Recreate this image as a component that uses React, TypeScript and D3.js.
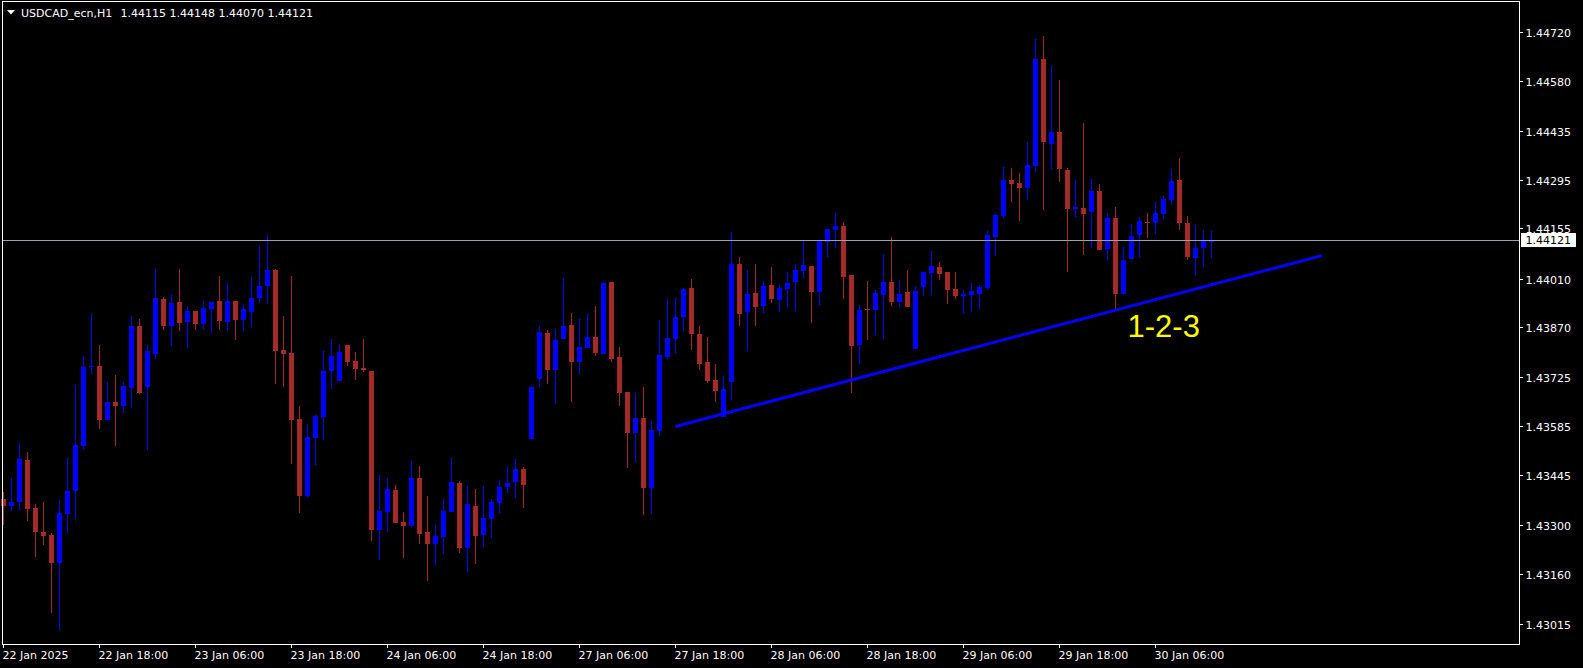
import React from "react";
import * as d3 from "d3";

const symbolTitle = "USDCAD_ecn,H1";
const lastQuote = ["1.44115", "1.44148", "1.44070", "1.44121"];
const bidPrice = 1.44121;

const openPrices = [
  1.43375, 1.43356, 1.43367, 1.43487, 1.43349, 1.4328, 1.43271, 1.43192, 1.43333, 1.43399,
  1.43529, 1.43755, 1.43758, 1.43603, 1.43654, 1.43644, 1.43696, 1.43873, 1.43697, 1.43793,
  1.43951, 1.43874, 1.43942, 1.43886, 1.43916, 1.4388, 1.43923, 1.43945, 1.43886, 1.43945,
  1.43891, 1.43914, 1.43955, 1.43989, 1.44034, 1.43804, 1.43795, 1.43605, 1.43384, 1.43551,
  1.43612, 1.43744, 1.43716, 1.43818, 1.43772, 1.43753, 1.43743, 1.43287, 1.43338, 1.43401,
  1.43309, 1.43298, 1.43435, 1.4328, 1.43246, 1.43266, 1.43338, 1.43421, 1.43235, 1.43355,
  1.43272, 1.43318, 1.43364, 1.4341, 1.43425, 1.43461, 1.43549, 1.43721, 1.43853, 1.43747,
  1.43837, 1.43876, 1.4377, 1.43811, 1.43841, 1.43793, 1.44, 1.43784, 1.43683, 1.43566,
  1.43608, 1.43408, 1.43571, 1.43784, 1.43836, 1.43899, 1.43983, 1.4385, 1.43769, 1.43718,
  1.43611, 1.43713, 1.44052, 1.43914, 1.43968, 1.43932, 1.43991, 1.43949, 1.4398, 1.44001,
  1.44032, 1.44046, 1.43971, 1.44116, 1.44151, 1.44161, 1.4402, 1.4382, 1.43922, 1.43918,
  1.43964, 1.44, 1.43943, 1.43971, 1.43808, 1.43986, 1.44026, 1.44043, 1.44029, 1.4398,
  1.43961, 1.43963, 1.43966, 1.43984, 1.4413, 1.44191, 1.44294, 1.44285, 1.44272, 1.44335,
  1.44642, 1.44398, 1.44432, 1.44323, 1.4421, 1.44213, 1.44203, 1.44262, 1.44096, 1.44184,
  1.43966, 1.44067, 1.44134, 1.44174, 1.4417, 1.44197, 1.44237, 1.44294, 1.4417, 1.4407,
  1.44099, 1.44115,
];
const highPrices = [
  1.43394, 1.43435, 1.43536, 1.4351, 1.43361, 1.43366, 1.43277, 1.43372, 1.43493, 1.43703,
  1.43787, 1.43908, 1.43818, 1.43712, 1.43732, 1.43712, 1.43902, 1.43893, 1.43818, 1.44037,
  1.43957, 1.43962, 1.44037, 1.43931, 1.43916, 1.43945, 1.43942, 1.44017, 1.43997, 1.43945,
  1.43937, 1.44014, 1.44105, 1.44135, 1.44037, 1.43902, 1.44017, 1.43643, 1.43591, 1.43617,
  1.43801, 1.43836, 1.43821, 1.43818, 1.43798, 1.43836, 1.43743, 1.43444, 1.43435, 1.43415,
  1.43337, 1.43484, 1.4347, 1.43384, 1.433, 1.43375, 1.43493, 1.43427, 1.43412, 1.43404,
  1.43412, 1.43375, 1.4343, 1.43467, 1.4349, 1.43467, 1.437, 1.43873, 1.43862, 1.43865,
  1.44011, 1.43911, 1.43893, 1.43908, 1.43931, 1.44, 1.44, 1.43813, 1.43683, 1.4368,
  1.43697, 1.436, 1.4389, 1.43951, 1.43954, 1.43983, 1.44009, 1.43873, 1.43841, 1.43764,
  1.43729, 1.44145, 1.44072, 1.44034, 1.44052, 1.44003, 1.44043, 1.43991, 1.44029, 1.44052,
  1.44121, 1.44046, 1.44121, 1.44153, 1.44199, 1.44173, 1.4402, 1.43934, 1.44003, 1.43977,
  1.44078, 1.4413, 1.44006, 1.44035, 1.43986, 1.44029, 1.44089, 1.44058, 1.44029, 1.44029,
  1.43977, 1.43997, 1.43991, 1.44147, 1.44196, 1.44331, 1.44328, 1.44314, 1.44403, 1.447,
  1.44709, 1.44622, 1.44582, 1.44328, 1.44294, 1.44458, 1.44297, 1.44282, 1.44199, 1.44216,
  1.44101, 1.44167, 1.44187, 1.44199, 1.4423, 1.44248, 1.44326, 1.44357, 1.4419, 1.44164,
  1.4415, 1.44148,
];
const lowPrices = [
  1.433, 1.4334, 1.43344, 1.43313, 1.43209, 1.43243, 1.43046, 1.42998, 1.43277, 1.43318,
  1.4352, 1.43736, 1.43577, 1.43602, 1.43529, 1.43623, 1.43638, 1.43677, 1.43517, 1.43779,
  1.43863, 1.43817, 1.4386, 1.43811, 1.43863, 1.43865, 1.43854, 1.43863, 1.4386, 1.43834,
  1.4386, 1.43871, 1.4394, 1.43937, 1.43707, 1.43698, 1.43477, 1.43335, 1.43381, 1.43474,
  1.43546, 1.43693, 1.43716, 1.43759, 1.43719, 1.43742, 1.43255, 1.432, 1.43281, 1.43307,
  1.43206, 1.43295, 1.43246, 1.4314, 1.43186, 1.43217, 1.43338, 1.4322, 1.43166, 1.43189,
  1.43238, 1.43264, 1.43335, 1.43393, 1.43379, 1.4335, 1.43549, 1.43698, 1.43707, 1.43649,
  1.43837, 1.43655, 1.43736, 1.43811, 1.43787, 1.43793, 1.4377, 1.43644, 1.43465, 1.43483,
  1.4333, 1.43333, 1.43557, 1.43778, 1.43795, 1.43859, 1.43804, 1.43746, 1.43709, 1.43654,
  1.43611, 1.43661, 1.43874, 1.43802, 1.43874, 1.43912, 1.4394, 1.43915, 1.43929, 1.43917,
  1.44012, 1.43883, 1.43934, 1.44072, 1.44099, 1.43952, 1.43681, 1.43765, 1.43834, 1.43848,
  1.43837, 1.43932, 1.43929, 1.43929, 1.43808, 1.43961, 1.43964, 1.44007, 1.43938, 1.43952,
  1.43912, 1.43915, 1.43923, 1.43981, 1.44076, 1.44185, 1.44231, 1.44177, 1.44237, 1.44318,
  1.44208, 1.44325, 1.44289, 1.4403, 1.44188, 1.44079, 1.44099, 1.44093, 1.44062, 1.43923,
  1.43966, 1.44067, 1.44073, 1.44128, 1.44138, 1.44182, 1.44226, 1.44151, 1.44062, 1.44018,
  1.44044, 1.4407,
];
const closePrices = [
  1.43356, 1.43366, 1.4349, 1.43347, 1.43281, 1.43269, 1.43192, 1.43335, 1.43398, 1.4353,
  1.43755, 1.43758, 1.43602, 1.43654, 1.43644, 1.437, 1.43873, 1.4368, 1.43801, 1.43954,
  1.43874, 1.43939, 1.43883, 1.43916, 1.4388, 1.43925, 1.43942, 1.43889, 1.43945, 1.43891,
  1.43922, 1.43954, 1.43988, 1.44034, 1.43802, 1.43793, 1.43603, 1.43384, 1.43553, 1.43614,
  1.43743, 1.43787, 1.43798, 1.4377, 1.4375, 1.43747, 1.43287, 1.4334, 1.43404, 1.43307,
  1.43298, 1.43435, 1.43275, 1.43246, 1.43268, 1.4334, 1.43424, 1.43235, 1.43361, 1.43269,
  1.4332, 1.43366, 1.43409, 1.43421, 1.43461, 1.43416, 1.43697, 1.43856, 1.43747, 1.43833,
  1.43873, 1.4377, 1.43813, 1.43841, 1.43795, 1.43997, 1.43779, 1.43681, 1.43566, 1.43608,
  1.43408, 1.43574, 1.4379, 1.43839, 1.43899, 1.4398, 1.4385, 1.43764, 1.43715, 1.43686,
  1.43692, 1.44052, 1.43909, 1.43965, 1.43929, 1.43988, 1.43952, 1.43983, 1.43997, 1.44035,
  1.44049, 1.43971, 1.44118, 1.44153, 1.44161, 1.44014, 1.43817, 1.43919, 1.43918, 1.43968,
  1.44, 1.43943, 1.43966, 1.43929, 1.43974, 1.44029, 1.44046, 1.44024, 1.43978, 1.43961,
  1.43966, 1.43974, 1.43986, 1.44135, 1.44193, 1.44294, 1.44283, 1.44272, 1.44337, 1.44642,
  1.44404, 1.44432, 1.44326, 1.44211, 1.44215, 1.44197, 1.44262, 1.44093, 1.44184, 1.43966,
  1.44063, 1.44133, 1.44176, 1.44171, 1.44199, 1.44239, 1.44291, 1.44171, 1.44073, 1.44098,
  1.44118, 1.44121,
];

const priceTicks = [
  1.4472, 1.4458, 1.44435, 1.44295, 1.44155, 1.4401, 1.4387, 1.43725, 1.43585, 1.43445,
  1.433, 1.4316, 1.43015,
];
const timeTickBars = [0, 12, 24, 36, 48, 60, 72, 84, 96, 108, 120, 132, 144];
const timeTickLabels = [
  "22 Jan 2025", "22 Jan 18:00", "23 Jan 06:00", "23 Jan 18:00", "24 Jan 06:00",
  "24 Jan 18:00", "27 Jan 06:00", "27 Jan 18:00", "28 Jan 06:00", "28 Jan 18:00",
  "29 Jan 06:00", "29 Jan 18:00", "30 Jan 06:00",
];

const trendBars = [84, 164.8];
const trendPrices = [1.43584, 1.44076];
const noteText = "1-2-3";
const noteBar = 140.5;
const notePrice = 1.43842;

const W = 1583;
const H = 668;
const FRAME = { left: 2, top: 1, right: 1519, bottom: 644 };
const BULL = "#0000ff";
const BEAR = "#a52a2a";
const FONT = "'DejaVu Sans', Tahoma, sans-serif";

export default function App() {
  const n = openPrices.length;
  const x = d3.scaleLinear().domain([0, n - 1]).range([3.5, 3.5 + 8 * (n - 1)]);
  const y = d3.scaleLinear().domain([1.429574, 1.448065]).range([644, 2]);

  const candles = openPrices.map((o, i) => {
    const c = closePrices[i];
    const col = Math.round(x(i) - 0.5);
    const bt = Math.round(y(Math.max(o, c)));
    const bb = Math.round(y(Math.min(o, c)));
    const wt = Math.round(y(highPrices[i]));
    const wb = Math.round(y(lowPrices[i]));
    const color = c >= o ? BULL : BEAR;
    return (
      <g key={i} fill={color}>
        <rect x={col} y={wt} width={1} height={Math.max(1, wb - wt)} />
        <rect x={col - 2} y={bt} width={5} height={Math.max(1, bb - bt)} />
      </g>
    );
  });

  const bidY = Math.floor(y(bidPrice)) + 0.5;

  return (
    <svg
      width={W}
      height={H}
      style={{ position: "fixed", left: 0, top: 0, display: "block", background: "#000" }}
    >
      <rect x={0} y={0} width={W} height={H} fill="#000" />
      <g shapeRendering="crispEdges">{candles}</g>

      <line
        x1={FRAME.left}
        x2={FRAME.right}
        y1={bidY}
        y2={bidY}
        stroke="#9aa3ad"
        strokeWidth={1}
        shapeRendering="crispEdges"
      />

      <line
        x1={x(trendBars[0])}
        y1={y(trendPrices[0])}
        x2={x(trendBars[1])}
        y2={y(trendPrices[1])}
        stroke={BULL}
        strokeWidth={3}
      />

      <text
        x={x(noteBar)}
        y={y(notePrice)}
        fill="#ffff00"
        fontFamily="'Liberation Sans', Arial, sans-serif"
        fontSize={31}
      >
        {noteText}
      </text>

      <rect
        x={FRAME.left + 0.5}
        y={FRAME.top + 0.5}
        width={FRAME.right - FRAME.left}
        height={FRAME.bottom - FRAME.top}
        fill="none"
        stroke="#fff"
        strokeWidth={1}
        shapeRendering="crispEdges"
      />

      {priceTicks.map((t) => {
        const ty = Math.round(y(t));
        return (
          <g key={t}>
            <line x1={1520} x2={1523} y1={ty + 0.5} y2={ty + 0.5} stroke="#fff" shapeRendering="crispEdges" />
            <text x={1525.5} y={ty + 4.5} fill="#fff" fontFamily={FONT} fontSize={11}>
              {t.toFixed(5)}
            </text>
          </g>
        );
      })}

      <rect x={1521} y={233} width={55} height={14} fill="#fff" />
      <text x={1525.5} y={244} fill="#000" fontFamily={FONT} fontSize={11}>
        {bidPrice.toFixed(5)}
      </text>

      {timeTickBars.map((b, i) => {
        const tx = Math.round(x(b) - 0.5);
        return (
          <g key={b}>
            <line x1={tx + 0.5} x2={tx + 0.5} y1={645} y2={648} stroke="#fff" shapeRendering="crispEdges" />
            <text x={tx - 0.5} y={659} fill="#fff" fontFamily={FONT} fontSize={11}>
              {timeTickLabels[i]}
            </text>
          </g>
        );
      })}

      <polygon points="7,10 15,10 11,14.5" fill="#fff" />
      <text x={21} y={17} fill="#fff" fontFamily={FONT} fontSize={11}>
        {symbolTitle}
      </text>
      <text x={120.5} y={17} fill="#fff" fontFamily={FONT} fontSize={11}>
        {lastQuote.join(" ")}
      </text>
    </svg>
  );
}
